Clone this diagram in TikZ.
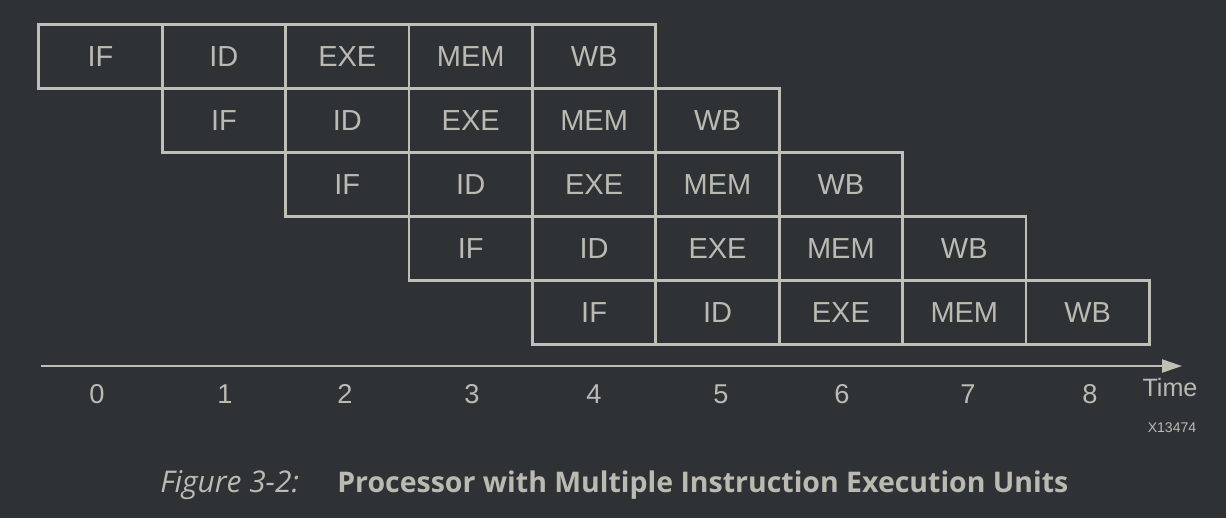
\documentclass[tikz,border=0pt]{standalone}
\usepackage{fontspec}
\setmainfont{Liberation Sans}
\newfontfamily\capfont{Open Sans}
\usetikzlibrary{arrows.meta}
\definecolor{bgdark}{HTML}{2E3235}
\definecolor{lineg}{HTML}{BEC0B8}
\definecolor{textg}{HTML}{B9BBB3}

\begin{document}
\begin{tikzpicture}[x=0.02cm,y=-0.02cm,
    cell/.style={draw=lineg, line width=1.5pt, minimum width=2.468cm, minimum height=1.28cm,
      inner sep=0pt, text=textg, font=\fontsize{16.5}{18}\selectfont},
    tick/.style={text=textg, font=\fontsize{15.5}{18}\selectfont},
    axis/.style={draw=lineg, line width=1.2pt, -{Triangle[length=0.4cm,width=0.26cm]}}]
    % background and page size
    \fill[bgdark] (0,0) rectangle (1226,518);
    \useasboundingbox (0,0) rectangle (1226,518);
    % pipeline stages, one row per instruction
    \foreach \r in {0,...,4}{
        \foreach \s/\lbl in {0/IF,1/ID,2/EXE,3/MEM,4/WB}{
            \node[cell] (c\r\s) at ({100.5+123.4*(\r+\s)},{56.5+64*\r}) {\lbl};
        }
    }
    % time axis
    \coordinate (axstart) at (41,366);
    \coordinate (axend) at (1182,366);
    \draw[axis] (axstart) -- (axend);
    \foreach \t/\xp in {0/97,1/225,2/345,3/472,4/594,5/721,6/842,7/968,8/1090}{
        \node[tick] (t\t) at (\xp,394) {\t};
    }
    \node[tick, font=\fontsize{14.3}{16}\selectfont] (timelbl) at (1170,388) {Time};
    \node[text=textg, font=\fontsize{8}{10}\selectfont] (figid) at (1172,428) {X13474};
    % caption
    \node[anchor=west, text=textg, font=\capfont\itshape\fontsize{17}{20}\selectfont, inner sep=0pt]
        (figlbl) at (160,485) {Figure 3-2:};
    \node[anchor=west, text=textg, font=\capfont\bfseries\fontsize{16.2}{19}\selectfont, inner sep=0pt]
        (figtitle) at (337,485) {Processor with Multiple Instruction Execution Units};
\end{tikzpicture}
\end{document}
